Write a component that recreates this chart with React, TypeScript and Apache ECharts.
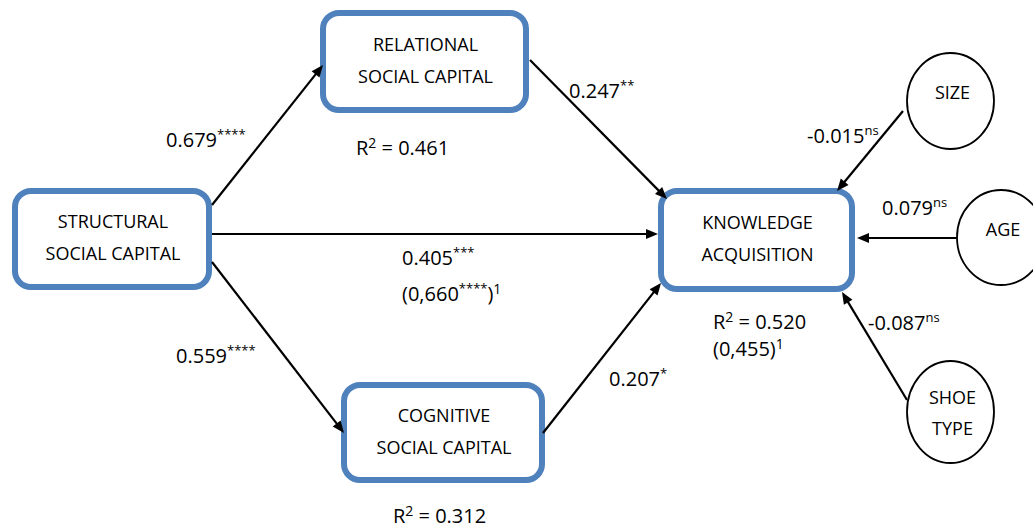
import React, { useEffect, useRef } from "react";
import * as echarts from "echarts";

const W = 1033;
const H = 529;

// ---- Model content ----
const constructNames = [
  "STRUCTURAL\nSOCIAL CAPITAL",
  "RELATIONAL\nSOCIAL CAPITAL",
  "COGNITIVE\nSOCIAL CAPITAL",
  "KNOWLEDGE\nACQUISITION",
];
const controlNames = ["SIZE", "AGE", "SHOE\nTYPE"];

// paths: S->R, R->K, S->K, S->C, C->K, SIZE->K, AGE->K, SHOE->K
const pathCoefficients = ["0.679", "0.247", "0.405", "0.559", "0.207", "-0.015", "0.079", "-0.087"];
const pathSignificance = ["****", "**", "***", "****", "*", "ns", "ns", "ns"];
const directEffectNoMediators = ["(0,660", "****", ")", "1"];

// R² of RELATIONAL, COGNITIVE, KNOWLEDGE
const rSquaredValues = ["0.461", "0.312", "0.520"];
const rSquaredNoMediators = ["(0,455)", "1"];

// ---- Layout (drawing coordinates) ----
const boxLayout = [
  [15, 191, 209, 287],
  [323, 13, 526, 110],
  [344, 385, 542, 480],
  [661, 191, 852, 289],
];
const ellipseLayout = [
  [950.5, 101, 43.5, 48, -9],
  [1001, 237.5, 44, 47.5, -9],
  [950.5, 412, 43.5, 51, 0],
];
const arrowLayout = [
  [212, 205, 323, 65],
  [530, 60, 667, 199],
  [212, 234, 658, 234],
  [212, 262, 344, 433],
  [543, 433, 661, 283],
  [903, 111, 837, 191],
  [957, 238, 857, 238],
  [907, 400, 842, 292],
];
const coefLabelLayout = [
  [166, 139],
  [569, 90],
  [402, 257],
  [176, 355],
  [609, 378],
  [807, 135],
  [882, 207],
  [868, 322],
];
const extraLabelLayout = [[402, 293]];
const r2LabelLayout = [
  [356, 147],
  [393, 515],
  [713, 321],
];
const r2ExtraLayout = [[713, 348]];

const FONT = "'Open Sans', 'DejaVu Sans', sans-serif";
const BLUE = "#4F81BD";

const rich = {
  n: { fontSize: 20, fontFamily: FONT, color: "#000", lineHeight: 24 },
  s: { fontSize: 13, fontFamily: FONT, color: "#000", lineHeight: 13, verticalAlign: "top" },
  t: { fontSize: 14, fontFamily: FONT, color: "#000", lineHeight: 14, verticalAlign: "top" },
};

const coefTexts = pathCoefficients.map((c, i) => `{n|${c}}{s|${pathSignificance[i]}}`);
const extraTexts = [
  `{n|${directEffectNoMediators[0]}}{s|${directEffectNoMediators[1]}}{n|${directEffectNoMediators[2]}}{t|${directEffectNoMediators[3]}}`,
];
const r2Texts = rSquaredValues.map((v) => `{n|R}{t|2}{n| = ${v}}`);
const r2ExtraTexts = [`{n|${rSquaredNoMediators[0]}}{t|${rSquaredNoMediators[1]}}`];

function textSeries(layout: number[][], texts: string[]) {
  return {
    type: "custom",
    coordinateSystem: "cartesian2d",
    data: layout,
    silent: true,
    renderItem: (params: any, api: any) => {
      const p = api.coord([api.value(0), api.value(1)]);
      return {
        type: "text",
        x: p[0],
        y: p[1],
        style: {
          text: texts[params.dataIndex],
          rich,
          align: "left",
          verticalAlign: "middle",
          fill: "#000",
        },
      };
    },
  };
}

export default function App() {
  const ref = useRef<HTMLDivElement>(null);

  useEffect(() => {
    if (!ref.current) return;
    const chart = echarts.init(ref.current, undefined, { renderer: "svg" });
    const option: any = {
      animation: false,
      backgroundColor: "#fff",
      grid: { left: 0, right: 0, top: 0, bottom: 0 },
      xAxis: { type: "value", min: 0, max: W, show: false },
      yAxis: { type: "value", min: 0, max: H, inverse: true, show: false },
      series: [
        {
          type: "custom",
          coordinateSystem: "cartesian2d",
          data: boxLayout,
          silent: true,
          renderItem: (params: any, api: any) => {
            const a = api.coord([api.value(0), api.value(1)]);
            const b = api.coord([api.value(2), api.value(3)]);
            const cx = (a[0] + b[0]) / 2;
            const cy = (a[1] + b[1]) / 2;
            return {
              type: "group",
              children: [
                {
                  type: "rect",
                  shape: { x: a[0], y: a[1], width: b[0] - a[0], height: b[1] - a[1], r: 16 },
                  style: { fill: "#fff", stroke: BLUE, lineWidth: 6 },
                },
                {
                  type: "text",
                  x: cx + 1,
                  y: cy - 2,
                  style: {
                    text: constructNames[params.dataIndex],
                    fontSize: 18,
                    fontFamily: FONT,
                    lineHeight: 32,
                    align: "center",
                    verticalAlign: "middle",
                    fill: "#000",
                  },
                },
              ],
            };
          },
        },
        {
          type: "custom",
          coordinateSystem: "cartesian2d",
          data: ellipseLayout,
          silent: true,
          renderItem: (params: any, api: any) => {
            const c = api.coord([api.value(0), api.value(1)]);
            const e = api.coord([api.value(0) + api.value(2), api.value(1) + api.value(3)]);
            return {
              type: "group",
              children: [
                {
                  type: "ellipse",
                  shape: { cx: c[0], cy: c[1], rx: e[0] - c[0], ry: e[1] - c[1] },
                  style: { fill: "#fff", stroke: "#000", lineWidth: 1.8 },
                },
                {
                  type: "text",
                  x: c[0] + 2,
                  y: c[1] + api.value(4),
                  style: {
                    text: controlNames[params.dataIndex],
                    fontSize: 18,
                    fontFamily: FONT,
                    lineHeight: 31,
                    align: "center",
                    verticalAlign: "middle",
                    fill: "#000",
                  },
                },
              ],
            };
          },
        },
        {
          type: "custom",
          coordinateSystem: "cartesian2d",
          data: arrowLayout,
          silent: true,
          renderItem: (params: any, api: any) => {
            const p0 = api.coord([api.value(0), api.value(1)]);
            const p1 = api.coord([api.value(2), api.value(3)]);
            const dx = p1[0] - p0[0];
            const dy = p1[1] - p0[1];
            const len = Math.hypot(dx, dy);
            const ux = dx / len;
            const uy = dy / len;
            const hl = 12;
            const hw = 5;
            const bx = p1[0] - ux * hl;
            const by = p1[1] - uy * hl;
            return {
              type: "group",
              children: [
                {
                  type: "line",
                  shape: { x1: p0[0], y1: p0[1], x2: bx + ux * 2, y2: by + uy * 2 },
                  style: { stroke: "#000", lineWidth: 2.2 },
                },
                {
                  type: "polygon",
                  shape: {
                    points: [
                      [p1[0], p1[1]],
                      [bx - uy * hw, by + ux * hw],
                      [bx + uy * hw, by - ux * hw],
                    ],
                  },
                  style: { fill: "#000" },
                },
              ],
            };
          },
        },
        textSeries(coefLabelLayout, coefTexts),
        textSeries(extraLabelLayout, extraTexts),
        textSeries(r2LabelLayout, r2Texts),
        textSeries(r2ExtraLayout, r2ExtraTexts),
      ],
    };
    chart.setOption(option);
    return () => chart.dispose();
  }, []);

  return (
    <div
      ref={ref}
      style={{ position: "absolute", left: 0, top: 0, width: W, height: H, background: "#fff" }}
    />
  );
}
